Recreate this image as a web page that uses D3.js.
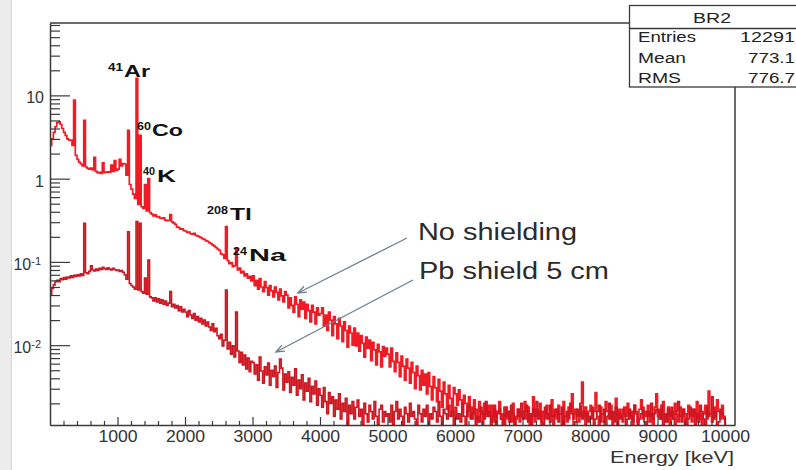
<!DOCTYPE html>
<html><head><meta charset="utf-8">
<script src="https://cdn.jsdelivr.net/npm/d3@7/dist/d3.min.js"></script>
<style>body{margin:0;background:#fff}svg{display:block}</style>
</head><body><svg id="c" width="796" height="470"></svg>
<script>
// ---------------- DATA ----------------
const binStart = 0;      // keV, lower edge of first bin
const binWidth = 25;     // keV per bin
// "No shielding" spectrum, one value per 25 keV bin (0 .. 10000 keV)
const noShield = [
2.5,3.0,3.6,4.2,4.7,4.8,4.5,4.0,3.6,3.3,3.0,2.9,2.9,2.5,8.8,1.9,1.7,1.58,1.5,1.42,
5.0,1.38,1.33,1.3,1.34,1.27,1.8,1.22,1.17,1.19,1.16,1.55,1.18,1.2,1.21,1.19,1.45,1.22,1.65,1.26,
1.3,1.7,1.42,1.52,1.5,1.1,3.8,0.85,0.75,0.65,0.58,16,0.49,3.3,0.46,0.44,0.85,0.41,1.0,0.39,
0.375,0.358,0.368,0.348,0.35,0.336,0.332,0.338,0.318,0.312,0.316,0.37,0.302,0.292,0.282,0.262,0.258,0.248,0.25,0.238,
0.235,0.226,0.228,0.218,0.215,0.221,0.208,0.206,0.2,0.196,0.19,0.187,0.18,0.177,0.17,0.166,0.16,0.155,0.149,0.143,
0.138,0.125,0.122,0.11,0.265,0.104,0.095,0.098,0.088,0.09,0.146,0.08,0.084,0.074,0.077,0.068,0.072,0.064,0.067,0.059,
0.068,0.052,0.06,0.047,0.063,0.05,0.044,0.058,0.049,0.04,0.052,0.045,0.038,0.05,0.043,0.035,0.047,0.039,0.033,0.044,
0.04,0.028,0.037,0.03,0.025,0.038,0.031,0.022,0.035,0.027,0.033,0.021,0.031,0.026,0.019,0.03,0.025,0.018,0.028,0.023,
0.024,0.028,0.017,0.023,0.015,0.025,0.02,0.013,0.022,0.018,0.012,0.021,0.017,0.011,0.019,0.015,0.0095,0.017,0.014,0.01,
0.016,0.0098,0.014,0.0085,0.013,0.0105,0.0072,0.0125,0.0092,0.0115,0.0065,0.0108,0.0088,0.0058,0.0102,0.0083,0.0055,0.0096,0.0074,0.0092,
0.0078,0.0055,0.0092,0.0064,0.0048,0.0081,0.0062,0.0042,0.0074,0.0056,0.0038,0.0068,0.0053,0.0035,0.0062,0.0047,0.003,0.0056,0.0043,0.0029,
0.005,0.0033,0.0045,0.0026,0.0047,0.0032,0.0022,0.0042,0.0031,0.0021,0.0039,0.0028,0.0018,0.0036,0.0026,0.0017,0.0033,0.0023,0.0016,0.0031,
0.0026,0.0019,0.0029,0.0022,0.0016,0.0025,0.002,0.0014,0.0024,0.0018,0.0013,0.0022,0.0017,0.0012,0.0021,0.0016,0,0.002,0.0015,0.0019,
0.0014,0.0019,0.0012,0.0017,0,0.0016,0.0021,0.0013,0.0015,0,0.0018,0.0013,0.0016,0.0012,0.002,0,0.0014,0.0017,0.0012,0.0015,
0.0016,0.0021,0.0013,0.0018,0,0.0015,0.0024,0.0012,0.0017,0.0014,0.002,0,0.0016,0.0013,0.0019,0.0015,0.0012,0.0022,0.0014,0.0017,
0.0013,0.0019,0.0015,0,0.0021,0.0014,0.0012,0.0018,0.0016,0.0026,0.0013,0.0017,0.0015,0.0012,0.002,0.0036,0.0014,0.0018,0.0013,0.0016,
0.0019,0.0013,0.0016,0.0027,0.0014,0,0.0018,0.0015,0.0012,0.0021,0.0016,0.0013,0.0019,0,0.0015,0.0023,0.0013,0.0017,0.0014,0.0012,
0.0018,0.0014,0.002,0.0013,0.0016,0,0.0019,0.0015,0.0012,0.0017,0.0022,0.0013,0.0016,0.0014,0.0019,0.0012,0.0015,0,0.0018,0.0026,
0.0014,0.0017,0.0013,0.0021,0.0015,0.0012,0.0018,0,0.0016,0.0013,0.002,0.0015,0.0012,0.0018,0.0014,0.0017,0,0.0013,0.0019,0.0015,
0.0012,0.0017,0.0014,0.0021,0.0013,0.0016,0,0.0015,0.0019,0.0013,0.0028,0.0015,0.0012,0.0018,0.0014,0.0022,0.0016,0.0013,0.0019,0.0014
];
// "Pb shield 5 cm" spectrum, same binning
const pbShield = [
0.040,0.048,0.053,0.058,0.06,0.058,0.063,0.061,0.065,0.062,0.066,0.064,0.068,0.065,0.069,0.067,0.07,0.068,0.072,0.069,
0.29,0.074,0.072,0.077,0.09,0.08,0.078,0.082,0.079,0.084,0.081,0.086,0.083,0.081,0.085,0.082,0.08,0.084,0.081,0.079,
0.08,0.077,0.079,0.075,0.07,0.062,0.23,0.055,0.052,0.05,0.047,0.305,0.046,0.29,0.044,0.042,0.064,0.041,0.105,0.038,
0.037,0.034,0.037,0.033,0.036,0.032,0.035,0.031,0.034,0.03,0.032,0.044,0.029,0.031,0.028,0.03,0.026,0.029,0.025,0.027,
0.025,0.022,0.026,0.023,0.021,0.024,0.02,0.022,0.019,0.021,0.018,0.02,0.017,0.019,0.0165,0.015,0.018,0.0145,0.016,0.013,
0.012,0.0135,0.0098,0.0115,0.046,0.009,0.0108,0.0078,0.0098,0.0072,0.025,0.0085,0.0062,0.0082,0.0058,0.0076,0.0052,0.007,0.0048,0.0064,
0.0062,0.0045,0.0058,0.0038,0.0072,0.0049,0.0035,0.0055,0.0044,0.0061,0.0033,0.005,0.0042,0.0056,0.0031,0.0047,0.0068,0.0053,0.0029,0.0045,
0.0036,0.0048,0.0027,0.0041,0.0033,0.0052,0.0025,0.0038,0.003,0.0044,0.0022,0.0035,0.0028,0.004,0.0021,0.0032,0.0026,0.0037,0.0019,0.003,
0.0025,0.0018,0.0031,0.0021,0.0015,0.0027,0.002,0.0024,0.0014,0.0022,0.0017,0.0026,0.0013,0.002,0.0016,0.0023,0,0.0019,0.0015,0.0021,
0.0013,0.0018,0.0022,0.0014,0.0017,0,0.002,0.0015,0.0012,0.0019,0.0016,0.0013,0.0021,0.0014,0,0.0017,0.0019,0.0012,0.0016,0.0014,
0.0015,0.0012,0.0019,0,0.0016,0.0021,0.0013,0.0017,0.0014,0,0.0018,0.0015,0.0012,0.002,0.0014,0.0016,0.0013,0,0.0019,0.0015,
0.0012,0.0017,0.0014,0.0019,0,0.0015,0.0013,0.0018,0.0016,0.0012,0.0021,0.0014,0,0.0017,0.0015,0.0013,0.0019,0.0014,0.0016,0,
0.0018,0.0013,0.0015,0.0012,0.002,0.0014,0,0.0016,0.0019,0.0013,0.0015,0.0017,0,0.0014,0.0012,0.0018,0.0015,0.0013,0.0021,0.0014,
0.0016,0,0.0014,0.0019,0.0012,0.0015,0.0017,0.0013,0,0.0018,0.0014,0.0016,0.0012,0.0019,0.0015,0,0.0013,0.0017,0.0014,0.002,
0.0013,0.0016,0.0019,0.0012,0.0015,0,0.0017,0.0014,0.0021,0.0013,0.0016,0.0012,0,0.0018,0.0015,0.0013,0.0019,0.0014,0,0.0016,
0.0017,0.0012,0.0015,0.0018,0,0.0014,0.0016,0.0013,0.002,0.0015,0,0.0012,0.0017,0.0014,0.0019,0.0013,0.0016,0,0.0015,0.0012,
0.0014,0.0018,0,0.0013,0.0016,0.0019,0.0012,0.0015,0.0017,0,0.0014,0.002,0.0013,0.0016,0.0012,0.0018,0,0.0015,0.0013,0.0017,
0.0015,0,0.0013,0.0017,0.0014,0.0012,0.0019,0.0016,0,0.0013,0.0015,0.0018,0.0012,0,0.0016,0.0014,0.002,0.0013,0.0015,0.0017,
0.0016,0.0013,0.0019,0,0.0015,0.0012,0.0017,0.0014,0.0018,0.0013,0,0.0016,0.0021,0.0014,0.0012,0.0017,0.0015,0,0.0013,0.0018,
0.0014,0.0017,0,0.0015,0.0012,0.0019,0.0016,0.0013,0,0.0018,0.0014,0.0015,0.0024,0.0013,0.0016,0,0.0012,0.0017,0.0015,0.0013
];
const xTickValues = [1000,2000,3000,4000,5000,6000,7000,8000,9000,10000];
const yTickValues = [0.01,0.1,1,10];
const yTickLabels = [["10","-2"],["10","-1"],["1",""],["10",""]];
const isotopes = [["41","Ar"],["60","Co"],["40","K"],["208","Tl"],["24","Na"]];
const seriesNames = ["No shielding","Pb shield 5 cm"];
const statsTitle = "BR2";
const statsRows = [["Entries","12291"],["Mean","773.1"],["RMS","776.7"]];
const xTitle = "Energy [keV]";
const xDomain = [0, 10148];
const yDomain = [0.0011, 74];

// ---------------- LAYOUT ----------------
const svg = d3.select("#c");
const L = 50, R = 735, T = 23, B = 425;
const FONT = "'Liberation Sans', Arial, Helvetica, sans-serif";
const AX = "#3a3a3a";

svg.append("rect").attr("x",0).attr("y",0).attr("width",796).attr("height",470).attr("fill","#fff");
svg.append("rect").attr("x",0).attr("y",0).attr("width",11).attr("height",470).attr("fill","#ececec");
svg.append("line").attr("x1",11.5).attr("x2",11.5).attr("y1",0).attr("y2",470).attr("stroke","#d4d4d4");

const x = d3.scaleLinear().domain(xDomain).range([L, R]);
const y = d3.scaleLog().domain(yDomain).range([B, T]);
const yMin = yDomain[0];

const defs = svg.append("defs");
defs.append("clipPath").attr("id","plot").append("rect")
  .attr("x",L).attr("y",T).attr("width",R-L).attr("height",B-T);
defs.append("filter").attr("id","soft").attr("x","-2%").attr("y","-2%").attr("width","104%").attr("height","104%")
  .append("feGaussianBlur").attr("stdDeviation",0.35);

function histPoints(vals){
  const pts = [[binStart, yMin]];
  vals.forEach((v,i)=>pts.push([binStart + i*binWidth, Math.max(v, yMin)]));
  const end = binStart + vals.length*binWidth;
  pts.push([end, Math.max(vals[vals.length-1], yMin)]);
  pts.push([end, yMin]);
  return pts;
}
const line = d3.line().x(d=>x(d[0])).y(d=>y(d[1])).curve(d3.curveStepAfter);

const g = svg.append("g").attr("clip-path","url(#plot)");
const gs = g.append("g").attr("filter","url(#soft)");
gs.append("path").attr("d", line(histPoints(noShield)))
  .attr("fill","none").attr("stroke","#ef1e28").attr("stroke-width",1.7).attr("stroke-linejoin","miter");
gs.append("path").attr("d", line(histPoints(pbShield)))
  .attr("fill","none").attr("stroke","#cc1420").attr("stroke-width",1.6).attr("stroke-linejoin","miter");

// ---------- axes ----------
const xMinor = d3.range(200, xDomain[1], 200).filter(v => v % 1000 !== 0);
const gx = svg.append("g").attr("transform",`translate(0,${B})`);
gx.call(d3.axisBottom(x).tickValues(xMinor).tickSizeInner(-4).tickSizeOuter(0).tickFormat(""));
gx.selectAll(".domain").remove();
const gx2 = svg.append("g").attr("transform",`translate(0,${B})`);
gx2.call(d3.axisBottom(x).tickValues(xTickValues).tickSizeInner(-8).tickSizeOuter(0).tickPadding(8).tickFormat(d3.format("d")));
[gx, gx2].forEach(a=>{a.selectAll("line").attr("stroke",AX).attr("stroke-width",1.2);});
gx2.select(".domain").attr("stroke",AX).attr("stroke-width",1.5);
gx2.selectAll("text").attr("font-family",FONT).attr("font-size",16).attr("fill","#333")
  .attr("dy","0.71em").attr("y",6)
  .attr("textLength",d=>String(d).length*9.8).attr("lengthAdjust","spacingAndGlyphs");

const yMinor = [];
for (let k=-3;k<=1;k++) for (let m=2;m<=9;m++){const v=m*Math.pow(10,k); if(v>yDomain[0]&&v<yDomain[1]) yMinor.push(v);}
const gy = svg.append("g").attr("transform",`translate(${L},0)`);
gy.call(d3.axisLeft(y).tickValues(yMinor).tickSizeInner(-10).tickSizeOuter(0).tickFormat(""));
gy.selectAll(".domain").remove();
const gy2 = svg.append("g").attr("transform",`translate(${L},0)`);
gy2.call(d3.axisLeft(y).tickValues(yTickValues).tickSizeInner(-20).tickSizeOuter(0).tickFormat(""));
[gy, gy2].forEach(a=>a.selectAll("line").attr("stroke",AX).attr("stroke-width",1.2));
gy2.select(".domain").attr("stroke",AX).attr("stroke-width",1.5);
yTickValues.forEach((v,i)=>{
  const [base, exp] = yTickLabels[i];
  const t = svg.append("text").attr("font-family",FONT).attr("fill","#333")
    .attr("text-anchor","end").attr("x", exp ? 41 : 44).attr("y", y(v)+8);
  t.append("tspan").attr("font-size",16).text(base);
  if (exp) t.append("tspan").attr("font-size",11).attr("dy",-5).text(exp);
});

// frame top & right
svg.append("line").attr("x1",L).attr("x2",629).attr("y1",T).attr("y2",T).attr("stroke",AX).attr("stroke-width",1.5);
svg.append("line").attr("x1",R).attr("x2",R).attr("y1",87).attr("y2",B).attr("stroke",AX).attr("stroke-width",1.5);

// x title
svg.append("text").attr("x",734).attr("y",463).attr("text-anchor","end")
  .attr("font-family",FONT).attr("font-size",16).attr("fill","#333")
  .attr("textLength",124).attr("lengthAdjust","spacingAndGlyphs").text(xTitle);

// ---------- stats box ----------
svg.append("rect").attr("x",629.5).attr("y",5.5).attr("width",180).attr("height",81.5)
  .attr("fill","#fff").attr("stroke",AX).attr("stroke-width",1.3);
svg.append("line").attr("x1",629.5).attr("x2",796).attr("y1",28.5).attr("y2",28.5).attr("stroke",AX).attr("stroke-width",1.3);
svg.append("text").attr("x",712).attr("y",23).attr("text-anchor","middle")
  .attr("font-family",FONT).attr("font-size",15).attr("fill","#222")
  .attr("textLength",38).attr("lengthAdjust","spacingAndGlyphs").text(statsTitle);
const rowY = [42, 62.5, 83];
const rowW = [[58,55],[48,47],[43,47]];
statsRows.forEach((r,i)=>{
  svg.append("text").attr("x",638).attr("y",rowY[i]).attr("font-family",FONT).attr("font-size",15.5).attr("fill","#222")
    .attr("textLength",rowW[i][0]).attr("lengthAdjust","spacingAndGlyphs").text(r[0]);
  svg.append("text").attr("x",795).attr("y",rowY[i]).attr("text-anchor","end").attr("font-family",FONT).attr("font-size",15.5).attr("fill","#222")
    .attr("textLength",rowW[i][1]).attr("lengthAdjust","spacingAndGlyphs").text(r[1]);
});

// ---------- isotope labels ----------
const isoLayout = [
  {sx:108, sy:71, sw:15, ex:124, ey:77, ew:26},
  {sx:137, sy:130, sw:14, ex:152, ey:135.5, ew:31},
  {sx:143, sy:175, sw:12, ex:157, ey:182, ew:19},
  {sx:207, sy:214, sw:21, ex:230, ey:220, ew:22},
  {sx:233, sy:255, sw:14, ex:249, ey:261, ew:37}
];
isotopes.forEach((iso,i)=>{
  const p = isoLayout[i];
  svg.append("text").attr("x",p.sx).attr("y",p.sy).attr("font-family",FONT).attr("font-weight","bold")
    .attr("font-size",11).attr("fill","#111").attr("textLength",p.sw).attr("lengthAdjust","spacingAndGlyphs").text(iso[0]);
  svg.append("text").attr("x",p.ex).attr("y",p.ey).attr("font-family",FONT).attr("font-weight","bold")
    .attr("font-size",16.5).attr("fill","#111").attr("textLength",p.ew).attr("lengthAdjust","spacingAndGlyphs").text(iso[1]);
});

// ---------- annotations ----------
const annLayout = [
  {tx:418, ty:240, tw:159, ax1:407, ay1:238, ax2:298, ay2:293},
  {tx:419, ty:279, tw:190, ax1:413, ay1:280, ax2:276, ay2:352}
];
seriesNames.forEach((name,i)=>{
  const a = annLayout[i];
  svg.append("text").attr("x",a.tx).attr("y",a.ty).attr("font-family",FONT).attr("font-size",23)
    .attr("fill","#2b2b2b").attr("textLength",a.tw).attr("lengthAdjust","spacingAndGlyphs").text(name);
  svg.append("line").attr("x1",a.ax1).attr("y1",a.ay1).attr("x2",a.ax2).attr("y2",a.ay2)
    .attr("stroke","#6f7f8e").attr("stroke-width",1.3);
  const ang = Math.atan2(a.ay1-a.ay2, a.ax1-a.ax2), len = 9, spread = 0.38;
  const p1 = [a.ax2 + len*Math.cos(ang+spread), a.ay2 + len*Math.sin(ang+spread)];
  const p2 = [a.ax2 + len*Math.cos(ang-spread), a.ay2 + len*Math.sin(ang-spread)];
  svg.append("path").attr("d",`M${p1[0]},${p1[1]}L${a.ax2},${a.ay2}L${p2[0]},${p2[1]}`)
    .attr("fill","none").attr("stroke","#6f7f8e").attr("stroke-width",1.3);
});
</script></body></html>
